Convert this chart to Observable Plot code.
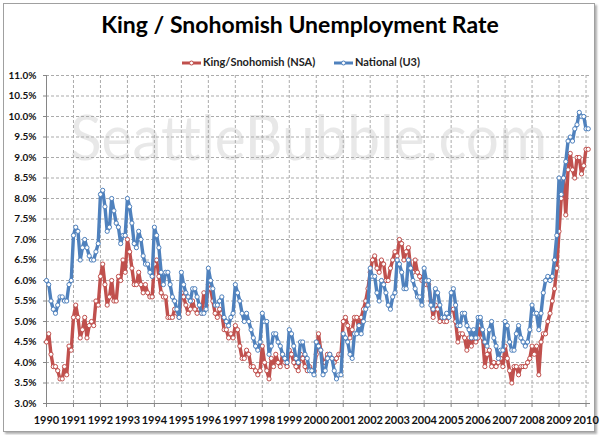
<!DOCTYPE html>
<html><head><meta charset="utf-8">
<script src="https://cdn.jsdelivr.net/npm/d3@7"></script>
<script src="https://cdn.jsdelivr.net/npm/@observablehq/plot@0.6"></script>
<style>
body{margin:0;background:#fff;}
#wrap{position:relative;width:600px;height:435px;overflow:hidden;background:#fff;}
#frame{position:absolute;left:3px;top:3px;width:590px;height:427px;border:1px solid #a0a0a0;box-shadow:2px 2px 2px #b0b0b0;background:#fff;}
#title{position:absolute;left:0;top:10px;width:600px;text-align:center;font:bold 23px Lato;color:#000;line-height:29px;}
.leg{position:absolute;top:55px;font:bold 11px Lato;color:#222;white-space:nowrap;line-height:14px;}
.leg svg{vertical-align:middle;margin-right:2px;}
#wm{position:absolute;left:0;top:0;}
#chart{position:absolute;left:0;top:0;}
</style></head>
<body>
<div id="wrap">
<div id="frame"></div>
<svg id="wm" width="600" height="435"><text x="70" y="160" font-family="Lato" font-size="62" fill="#e8e8e8" textLength="477" lengthAdjust="spacingAndGlyphs">SeattleBubble.com</text></svg>
<div id="chart"></div>
<div id="title">King / Snohomish Unemployment Rate</div>
<div class="leg" id="leg1"></div>
<div class="leg" id="leg2"></div>
</div>
<script>
const startYear = 1990;
const seriesNames = ["King/Snohomish (NSA)", "National (U3)"];
const seriesColors = ["#C0504D", "#4F81BD"];
const yearLabels = ["1990","1991","1992","1993","1994","1995","1996","1997","1998","1999","2000","2001","2002","2003","2004","2005","2006","2007","2008","2009","2010"];
const yTickValues = [3.0,3.5,4.0,4.5,5.0,5.5,6.0,6.5,7.0,7.5,8.0,8.5,9.0,9.5,10.0,10.5,11.0];

// Monthly, Jan 1990 - Feb 2010
const kingSnohomish = [
4.5,4.7,4.2,3.9,3.9,3.8,3.6,3.6,3.9,3.7,4.4,4.3,
5.1,5.4,5.1,4.6,4.8,5.1,4.6,4.9,5.0,4.9,5.5,5.4,
6.1,6.4,5.9,5.4,5.6,6.0,5.5,5.5,6.1,6.0,6.5,6.2,
7.0,6.7,6.3,5.9,5.9,6.2,5.9,5.7,5.9,5.7,5.6,5.6,
6.4,6.5,6.1,5.7,5.6,5.6,5.1,5.1,5.1,5.3,5.2,5.1,
5.7,5.6,5.4,5.2,5.3,5.5,5.3,5.2,5.3,5.2,5.7,5.4,
5.9,5.8,5.5,5.2,5.1,5.3,5.2,4.8,4.8,4.6,4.7,4.6,
4.9,4.8,4.4,4.1,4.1,4.3,4.2,3.9,3.9,3.8,3.7,3.8,
4.4,4.0,3.8,3.6,4.1,3.9,4.2,4.0,3.9,4.2,4.0,3.9,
4.3,4.2,4.0,3.9,3.8,4.2,4.1,3.9,3.8,3.9,3.8,3.8,
4.2,4.7,4.3,4.0,4.0,4.2,4.2,4.1,4.0,4.1,4.2,4.2,
5.0,5.1,4.9,4.6,4.8,5.1,5.1,4.8,5.1,5.3,5.5,5.8,
6.2,6.5,6.6,6.3,6.2,6.5,6.4,6.0,6.0,6.3,6.5,6.7,
6.6,7.0,6.9,6.5,6.7,6.8,6.3,6.2,6.5,6.2,6.1,6.0,
6.0,5.9,5.9,5.5,5.1,5.4,5.3,5.0,5.1,5.0,5.0,5.2,
5.3,5.3,5.0,4.5,4.7,4.7,4.6,4.3,4.6,4.4,4.6,4.5,
4.6,4.9,4.6,3.9,4.2,4.3,3.9,4.0,3.9,4.0,4.1,3.9,
4.4,4.1,3.8,3.5,3.9,3.9,3.7,3.9,3.9,3.9,4.0,4.1,
4.4,4.2,4.4,3.7,4.5,4.7,4.7,5.0,5.2,5.5,5.8,6.3,
7.2,8.0,8.5,7.6,8.7,9.1,8.7,8.5,9.0,9.0,8.6,8.8,
9.2,9.2];

const national = [
6.0,5.9,5.5,5.3,5.2,5.4,5.6,5.6,5.5,5.5,5.9,6.0,
7.1,7.3,7.2,6.5,6.8,7.0,6.8,6.6,6.5,6.5,6.7,6.9,
8.1,8.2,7.8,7.2,7.3,8.0,7.7,7.4,7.3,6.9,7.1,7.1,
8.0,7.8,7.4,6.9,6.8,7.2,7.0,6.6,6.4,6.4,6.2,6.1,
7.3,7.1,6.8,6.2,5.9,6.2,6.2,5.9,5.6,5.5,5.3,5.1,
6.2,5.9,5.7,5.6,5.5,5.8,5.8,5.6,5.4,5.2,5.2,5.3,
6.3,6.0,5.8,5.4,5.4,5.5,5.6,5.1,5.0,4.9,5.1,5.2,
5.9,5.7,5.5,5.2,5.0,5.2,5.0,4.8,4.6,4.4,4.3,4.5,
5.2,5.0,5.0,4.2,4.4,4.7,4.7,4.5,4.4,4.2,4.1,4.0,
4.8,4.7,4.4,4.1,4.0,4.5,4.5,4.2,4.1,3.8,3.8,3.7,
4.5,4.4,4.3,3.7,3.8,4.1,4.2,4.1,3.8,3.6,3.7,3.7,
4.7,4.6,4.5,4.2,4.1,4.7,4.7,4.9,4.7,5.0,5.3,5.4,
6.3,6.1,6.1,5.7,5.5,6.0,5.9,5.7,5.4,5.3,5.6,5.7,
6.5,6.4,6.2,5.8,5.8,6.5,6.3,6.0,5.8,5.6,5.6,5.4,
6.3,6.0,6.0,5.4,5.3,5.8,5.7,5.4,5.1,5.1,5.2,5.1,
5.7,5.8,5.4,4.9,4.9,5.2,5.2,4.9,4.8,4.6,4.8,4.6,
5.1,5.1,4.8,4.5,4.4,4.8,5.0,4.6,4.4,4.1,4.3,4.3,
5.0,4.9,4.5,4.3,4.3,4.7,4.9,4.6,4.5,4.4,4.5,4.8,
5.4,5.2,5.2,4.8,5.2,5.7,6.0,6.1,6.0,6.1,6.5,7.1,
8.5,8.1,8.5,8.9,9.4,9.5,9.4,9.7,9.8,10.1,10.0,10.0,
9.7,9.7];

const rows = [];
kingSnohomish.forEach((v, i) => rows.push({month: i, rate: v, series: seriesNames[0]}));
national.forEach((v, i) => rows.push({month: i, rate: v, series: seriesNames[1]}));
const yearTicks = yearLabels.map((y, k) => k * 12);
const grid = "#ababab", axisCol = "#868686";

const chart = Plot.plot({
  width: 600, height: 435,
  marginLeft: 46, marginRight: 10, marginTop: 75, marginBottom: 32,
  style: {background: "transparent", fontFamily: "Lato"},
  x: {domain: [0, 242]},
  y: {domain: [3, 11]},
  color: {domain: seriesNames, range: seriesColors},
  marks: [
    Plot.ruleY(yTickValues.filter(t => t > 3), {stroke: grid, strokeDasharray: "3,2", strokeWidth: 1}),
    Plot.ruleX(yearTicks.filter(t => t > 0), {stroke: grid, strokeDasharray: "3,2", strokeWidth: 1}),
    Plot.ruleX([0], {stroke: axisCol}),
    Plot.ruleY([3], {stroke: axisCol}),
    Plot.axisY({ticks: yTickValues, tickSize: 3, tickPadding: 7, stroke: axisCol, label: null,
      tickFormat: d => d.toFixed(1) + "%", fontWeight: "bold", fontSize: 10, fill: "#111"}),
    Plot.axisX({ticks: yearTicks, tickSize: 4, tickPadding: 9, stroke: axisCol, label: null,
      tickFormat: d => yearLabels[d / 12], fontWeight: "bold", fontSize: 11, fill: "#111"}),
    Plot.line(rows.filter(d => d.series === seriesNames[0]), {x: "month", y: "rate", stroke: "series", strokeWidth: 3.4, strokeLinejoin: "round"}),
    Plot.dot(rows.filter(d => d.series === seriesNames[0]), {x: "month", y: "rate", stroke: "series", fill: "white", r: 2.1, strokeWidth: 1}),
    Plot.line(rows.filter(d => d.series === seriesNames[1]), {x: "month", y: "rate", stroke: "series", strokeWidth: 3.4, strokeLinejoin: "round"}),
    Plot.dot(rows.filter(d => d.series === seriesNames[1]), {x: "month", y: "rate", stroke: "series", fill: "white", r: 2.1, strokeWidth: 1})
  ]
});
document.getElementById("chart").appendChild(chart);

function legendItem(el, name, color, left) {
  el.style.left = left + "px";
  el.innerHTML = `<svg width="19" height="8"><line x1="0" y1="4" x2="19" y2="4" stroke="${color}" stroke-width="3"/><circle cx="9.5" cy="4" r="2" fill="#fff" stroke="${color}" stroke-width="1"/></svg>${name}`;
}
legendItem(document.getElementById("leg1"), seriesNames[0], seriesColors[0], 182);
legendItem(document.getElementById("leg2"), seriesNames[1], seriesColors[1], 334);
</script>
</body></html>
